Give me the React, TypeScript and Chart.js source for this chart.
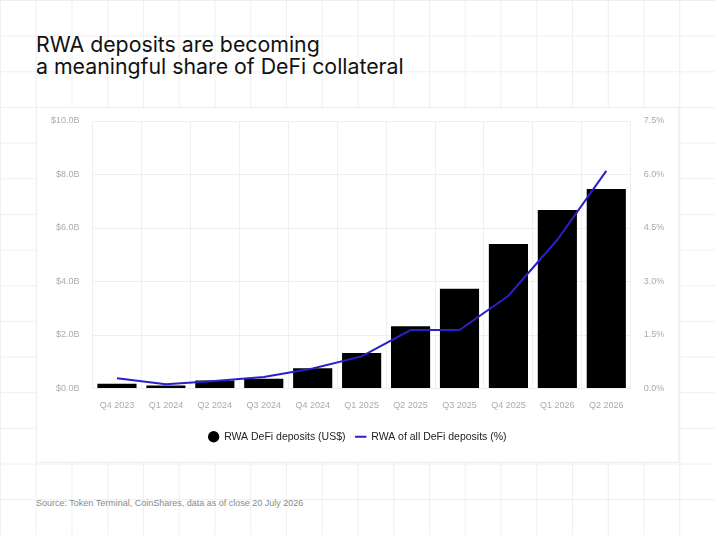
import { useEffect, useRef } from "react"
import { Chart, registerables } from "chart.js"

Chart.register(...registerables)

// Quarters on the x axis
const quarters = [
  "Q4 2023", "Q1 2024", "Q2 2024", "Q3 2024", "Q4 2024", "Q1 2025",
  "Q2 2025", "Q3 2025", "Q4 2025", "Q1 2026", "Q2 2026",
]

// RWA DeFi deposits, billions of US$
const depositsB = [0.18, 0.11, 0.30, 0.36, 0.76, 1.33, 2.33, 3.73, 5.40, 6.67, 7.46]

// RWA share of all DeFi deposits, %
const sharePct = [0.29, 0.12, 0.21, 0.32, 0.56, 0.90, 1.64, 1.64, 2.60, 4.17, 6.10]

const GRID = "#efefef"
const TICK = "#ababab"
const BLUE = "#2a1fc8"

function DepositsChart() {
  const chartRef = useRef<HTMLCanvasElement>(null)
  const chartInstance = useRef<Chart | null>(null)

  useEffect(() => {
    if (!chartRef.current) return
    if (chartInstance.current) chartInstance.current.destroy()
    const ctx = chartRef.current.getContext("2d")
    if (!ctx) return

    const tickFont = { family: "'Liberation Sans', Arial, sans-serif", size: 9 }

    chartInstance.current = new Chart(ctx, {
      type: "bar",
      data: {
        labels: quarters,
        datasets: [
          {
            type: "line",
            label: "RWA of all DeFi deposits (%)",
            data: sharePct,
            yAxisID: "y1",
            borderColor: BLUE,
            backgroundColor: BLUE,
            borderWidth: 2,
            pointRadius: 0,
            pointStyle: "line",
            tension: 0,
          },
          {
            type: "bar",
            label: "RWA DeFi deposits (US$)",
            data: depositsB.map((v) => v * 1e9),
            yAxisID: "y",
            backgroundColor: "#000000",
            borderColor: "#000000",
            borderWidth: 0,
            pointStyle: "circle",
            barPercentage: 1,
            categoryPercentage: 0.8,
          },
        ],
      },
      options: {
        responsive: false,
        animation: false,
        layout: { padding: { top: 14, bottom: 11, left: 0, right: 0 } },
        scales: {
          x: {
            grid: { color: GRID, drawTicks: false, offset: true },
            border: { color: GRID },
            ticks: { color: TICK, font: tickFont, padding: 12, maxRotation: 0 },
            afterFit: (scale) => {
              scale.height = 33
            },
          },
          y: {
            position: "left",
            min: 0,
            max: 10e9,
            grid: { color: GRID, drawTicks: false },
            border: { color: GRID },
            ticks: {
              stepSize: 2e9,
              color: TICK,
              font: tickFont,
              padding: 13,
              callback: (v) => "$" + (Number(v) / 1e9).toFixed(1) + "B",
            },
            afterFit: (scale) => {
              scale.width = 56.5
              scale.paddingTop = 5
              scale.paddingBottom = 5
            },
          },
          y1: {
            position: "right",
            min: 0,
            max: 7.5,
            grid: { drawOnChartArea: false, drawTicks: false },
            border: { color: GRID },
            ticks: {
              stepSize: 1.5,
              color: TICK,
              font: tickFont,
              padding: 13,
              callback: (v) => Number(v).toFixed(1) + "%",
            },
            afterFit: (scale) => {
              scale.width = 48.25
              scale.paddingTop = 5
              scale.paddingBottom = 5
            },
          },
        },
        plugins: {
          legend: {
            position: "bottom",
            labels: {
              usePointStyle: true,
              boxHeight: 8,
              padding: 10,
              color: "#222222",
              font: { family: "'Liberation Sans', Arial, sans-serif", size: 10.5 },
              sort: (a, b) => (b.datasetIndex ?? 0) - (a.datasetIndex ?? 0),
            },
          },
          tooltip: { enabled: false },
        },
      },
    })

    return () => {
      if (chartInstance.current) chartInstance.current.destroy()
    }
  }, [])

  return (
    <canvas
      ref={chartRef}
      width={643.5}
      height={356}
      style={{ position: "absolute", left: -1, top: -1, width: 643.5, height: 356 }}
    />
  )
}

export default function App() {
  return (
    <div
      style={{
        position: "absolute",
        left: 0,
        top: 0,
        width: 715,
        height: 535,
        overflow: "hidden",
        backgroundColor: "#ffffff",
        backgroundImage:
          "linear-gradient(to right, #efefef 1px, transparent 1px), linear-gradient(to bottom, #efefef 1px, transparent 1px)",
        backgroundSize: "35.75px 35.667px",
      }}
    >
      <div
        style={{
          position: "absolute",
          left: 36,
          top: 33,
          fontFamily: "Inter, sans-serif",
          fontSize: 21.3,
          lineHeight: "22px",
          color: "#111111",
        }}
      >
        RWA deposits are becoming
        <br />a meaningful share of DeFi collateral
      </div>
      <div
        style={{
          position: "absolute",
          left: 35.75,
          top: 107,
          width: 643.5,
          height: 356,
          background: "#ffffff",
          boxSizing: "border-box",
          border: "1px solid #efefef",
        }}
      >
        <DepositsChart />
      </div>
      <div
        style={{
          position: "absolute",
          left: 36,
          top: 497,
          fontFamily: "'Liberation Sans', Arial, sans-serif",
          fontSize: 9,
          lineHeight: "12px",
          color: "#8a8a8a",
        }}
      >
        Source: Token Terminal, CoinShares, data as of close 20 July 2026
      </div>
    </div>
  )
}
